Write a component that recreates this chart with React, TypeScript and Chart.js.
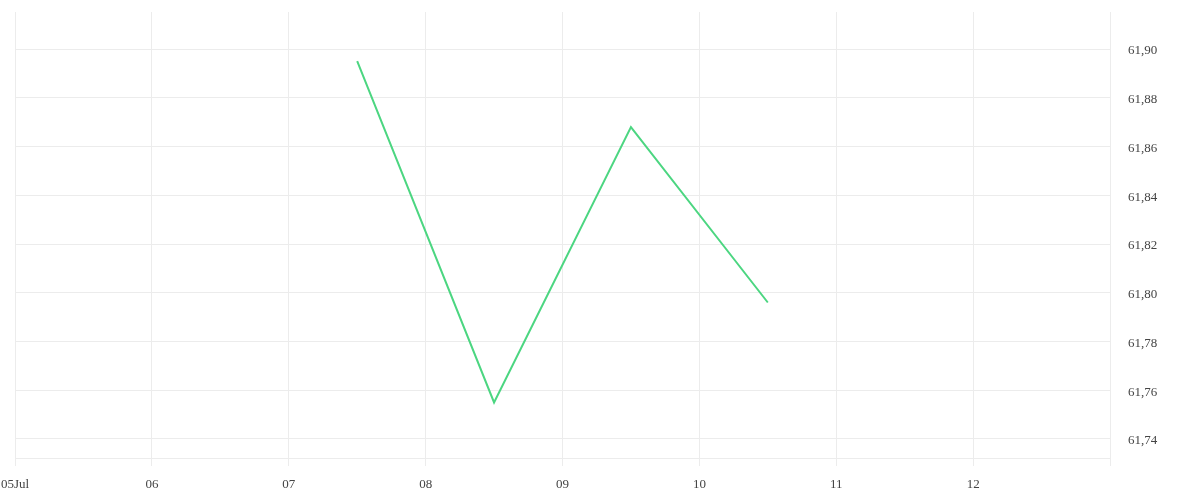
import React, { useEffect, useRef } from 'react';
import Chart from 'chart.js/auto';

// days of July, each value sits at noon of its day
const days = [7.5, 8.5, 9.5, 10.5];
const values = [61.895, 61.755, 61.868, 61.796];
const yTicks = [61.74, 61.76, 61.78, 61.8, 61.82, 61.84, 61.86, 61.88, 61.9];

const GRID = '#ececec';
const FONT = { family: "'Liberation Serif', serif", size: 13 };

const App: React.FC = () => {
  const chartRef = useRef<HTMLCanvasElement | null>(null);

  useEffect(() => {
    document.body.style.margin = '0';
    if (!chartRef.current) return;

    const myChart = new Chart(chartRef.current, {
      type: 'line',
      data: {
        datasets: [{
          data: days.map((d, i) => ({ x: d, y: values[i] })),
          borderColor: '#4cd681',
          borderWidth: 2,
          pointRadius: 0,
          tension: 0,
          fill: false
        }]
      },
      options: {
        animation: false,
        responsive: false,
        plugins: { legend: { display: false }, tooltip: { enabled: false } },
        layout: { padding: { top: 12, left: 0, right: 0, bottom: 0 } },
        scales: {
          x: {
            type: 'linear',
            min: 5,
            max: 13,
            grid: { color: GRID, tickLength: 8 },
            border: { color: GRID },
            ticks: {
              stepSize: 1,
              color: '#444',
              padding: 11,
              maxRotation: 0,
              font: FONT,
              callback: (v) => {
                const n = Number(v);
                if (n === 5) return '05Jul';
                if (n === 13) return '';
                return String(n).padStart(2, '0');
              }
            },
            afterFit: (s) => {
              s.height = 42;
              s.paddingLeft = 15;
              s.paddingRight = 0;
            }
          },
          y: {
            position: 'right',
            min: 61.7322,
            max: 61.9152,
            grid: { color: GRID, drawTicks: false },
            border: { color: GRID },
            afterBuildTicks: (s) => { s.ticks = yTicks.map((v) => ({ value: v })); },
            ticks: {
              color: '#444',
              padding: 18,
              labelOffset: 2,
              font: FONT,
              callback: (v) => Number(v).toFixed(2).replace('.', ',')
            },
            afterFit: (s) => {
              s.width = 90;
              s.paddingTop = 0;
              s.paddingBottom = 0;
            }
          }
        }
      }
    });

    return () => myChart.destroy();
  }, []);

  return <canvas ref={chartRef} width={1200} height={500} />;
};

export default App;
